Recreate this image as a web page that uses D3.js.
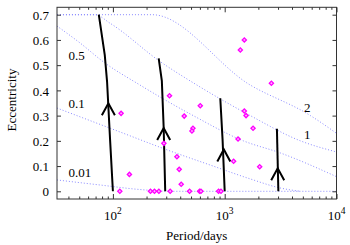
<!DOCTYPE html>
<html><head><meta charset="utf-8">
<script src="https://cdn.jsdelivr.net/npm/d3@7/dist/d3.min.js"></script>
<style>html,body{margin:0;padding:0;background:#fff;} svg{display:block;}</style>
</head><body><svg id="c" width="350" height="245"></svg>
<script>
// ---- data ----
const yTicks = [0, 0.1, 0.2, 0.3, 0.4, 0.5, 0.6, 0.7];
const yTickLabels = ["0", "0.1", "0.2", "0.3", "0.4", "0.5", "0.6", "0.7"];
const xMajor = [100, 1000, 10000];
const xTickBase = ["10", "10", "10"];
const xTickExp = ["2", "3", "4"];
const xMinor = [40, 50, 60, 70, 80, 90, 200, 300, 400, 500, 600, 700, 800, 900,
                2000, 3000, 4000, 5000, 6000, 7000, 8000, 9000];

// dotted curves
const curveLabels = ["2", "1", "0.5", "0.1", "0.01"];
const curve2P = [31.6, 224, 1695, 5848, 10000];
const curve2E = [0.70, 0.70, 0.421, 0.30, 0.23];
const curve1P = [31.6, 69.3, 94.4, 265, 565, 1695, 4756, 10000];
const curve1E = [0.70, 0.70, 0.666, 0.514, 0.421, 0.30, 0.20, 0.156];
const curve05P = [31.6, 50.8, 81.7, 175, 523, 1468, 3148, 10000];
const curve05E = [0.655, 0.588, 0.514, 0.421, 0.30, 0.20, 0.152, 0.058];
const curve01P = [31.6, 116, 306, 743, 1695, 3148, 4756];
const curve01E = [0.33, 0.235, 0.164, 0.104, 0.049, 0.013, 0.0];
const curve001P = [31.6, 76.8, 175, 325, 10000];
const curve001E = [0.045, 0.025, 0.007, 0.0, 0.0];

// black evolution tracks
const track1P = [74.8, 84.6, 88.7, 94.4, 100];
const track1E = [0.70, 0.54, 0.434, 0.203, 0.0];
const track2P = [256.8, 274, 284.6, 293.7];
const track2E = [0.527, 0.4375, 0.251, 0.0];
const track3P = [913, 957.6, 1000];
const track3E = [0.369, 0.203, 0.0];
const track4P = [2931, 3020];
const track4E = [0.248, 0.0];
const arrowP = [91.1, 284.6, 982, 2979];
const arrowE = [0.349, 0.251, 0.166, 0.091];

// observed systems
const planetP = [118.4, 140.5, 115.3, 216.8, 235.4, 257.8, 325.4, 484.8, 595.7, 613.2,
                 881.6, 926.4, 285.8, 320.8, 604.6, 434.5, 520, 509.3, 373.8, 391.9,
                 408.4, 1316, 1201, 1498, 1552, 1793, 1498, 1380, 2616, 2055];
const planetE = [0.309, 0.067, 0, 0, 0, 0, 0, 0, 0, 0,
                 0, 0, 0.19, 0.379, 0.339, 0.298, 0.25, 0.239, 0.137, 0.087,
                 0.028, 0.207, 0.119, 0.318, 0.30, 0.25, 0.60, 0.56, 0.428, 0.0975];

// ---- chart ----
const svg = d3.select("#c");
const L = 57, R = 336.5, T = 7.3, B = 199;
const x = d3.scaleLog().domain([Math.pow(10, 1.5), 1e4]).range([L, R]);
const y = d3.scaleLinear().domain([-0.0305, 0.7293]).range([B, T]);
const serif = "'Liberation Serif','Times New Roman',serif";
const axisCol = "#333";

svg.append("defs").append("clipPath").attr("id", "clip")
  .append("rect").attr("x", L).attr("y", T).attr("width", R - L).attr("height", B - T);

const plot = svg.append("g").attr("clip-path", "url(#clip)");

// dotted curves
const curves = [[curve2P, curve2E], [curve1P, curve1E], [curve05P, curve05E],
                [curve01P, curve01E], [curve001P, curve001E]];
const line = d3.line().x(d => x(d[0])).y(d => y(d[1])).curve(d3.curveMonotoneX);
curves.forEach(c => {
  const pts = c[0].map((p, i) => [p, c[1][i]]);
  plot.append("path").attr("d", line(pts)).attr("fill", "none")
    .attr("stroke", "#8a8aff").attr("stroke-width", 1)
    .attr("stroke-dasharray", "1,2");
});

// tracks
const tline = d3.line().x(d => x(d[0])).y(d => y(d[1]));
[[track1P, track1E], [track2P, track2E], [track3P, track3E], [track4P, track4E]].forEach(t => {
  const pts = t[0].map((p, i) => [p, t[1][i]]);
  plot.append("path").attr("d", tline(pts)).attr("fill", "none")
    .attr("stroke", "#000").attr("stroke-width", 2);
});
arrowP.forEach((p, i) => {
  const ax = x(p), ay = y(arrowE[i]);
  plot.append("path")
    .attr("d", `M${ax - 6.5},${ay + 12}L${ax},${ay}L${ax + 6.5},${ay + 12}`)
    .attr("fill", "none").attr("stroke", "#000").attr("stroke-width", 2)
    .attr("stroke-linejoin", "miter");
});

// points (square diamonds)
const sym = d3.symbol().type(d3.symbolSquare).size(9);
planetP.forEach((p, i) => {
  plot.append("path").attr("d", sym())
    .attr("transform", `translate(${x(p)},${y(planetE[i])}) rotate(45)`)
    .attr("fill", "#ffb0ff").attr("stroke", "#ff00ff").attr("stroke-width", 1.3);
});

// axes
function styleAxis(g) {
  g.select(".domain").remove();
  g.selectAll(".tick line").attr("stroke", axisCol);
  g.attr("font-family", serif).attr("font-size", 13);
  g.selectAll(".tick text").attr("fill", "#000");
}
svg.append("g").attr("transform", `translate(${L},0)`)
  .call(d3.axisLeft(y).tickValues(yTicks).tickSize(-4).tickPadding(8)
    .tickFormat((d, i) => yTickLabels[i]))
  .call(styleAxis)
  .call(g => g.selectAll(".tick text").attr("dy", "0.36em"));
svg.append("g").attr("transform", `translate(${R},0)`)
  .call(d3.axisRight(y).tickValues(yTicks).tickSize(-4).tickFormat(""))
  .call(styleAxis);
svg.append("g").attr("transform", `translate(0,${B})`)
  .call(d3.axisBottom(x).tickValues(xMajor).tickSize(-5).tickFormat(""))
  .call(styleAxis);
svg.append("g").attr("transform", `translate(0,${B})`)
  .call(d3.axisBottom(x).tickValues(xMinor).tickSize(-2.5).tickFormat(""))
  .call(styleAxis);
svg.append("g").attr("transform", `translate(0,${T})`)
  .call(d3.axisTop(x).tickValues(xMajor).tickSize(-5).tickFormat(""))
  .call(styleAxis);
svg.append("g").attr("transform", `translate(0,${T})`)
  .call(d3.axisTop(x).tickValues(xMinor).tickSize(-2.5).tickFormat(""))
  .call(styleAxis);

// x tick labels with superscripts
xMajor.forEach((v, i) => {
  const t = svg.append("text").attr("x", x(v)).attr("y", B + 21)
    .attr("text-anchor", "middle").attr("font-family", serif).attr("font-size", 13);
  t.append("tspan").text(xTickBase[i]);
  t.append("tspan").attr("dy", -6).attr("font-size", 9.5).text(xTickExp[i]);
});

// frame
svg.append("rect").attr("x", L).attr("y", T).attr("width", R - L).attr("height", B - T)
  .attr("fill", "none").attr("stroke", axisCol).attr("stroke-width", 1);

// curve labels
const labelPos = [[304, 111.5], [304, 138.5], [68.5, 60], [68.5, 108.3], [68.5, 176.5]];
curveLabels.forEach((s, i) => {
  svg.append("text").attr("x", labelPos[i][0]).attr("y", labelPos[i][1])
    .attr("font-family", serif).attr("font-size", 13).text(s);
});

// axis titles
svg.append("text").attr("x", (L + R) / 2).attr("y", 240).attr("text-anchor", "middle")
  .attr("font-family", serif).attr("font-size", 13).text("Period/days");
svg.append("text").attr("transform", `translate(16,100) rotate(-90)`)
  .attr("text-anchor", "middle").attr("font-family", serif).attr("font-size", 13)
  .text("Eccentricity");
</script></body></html>
